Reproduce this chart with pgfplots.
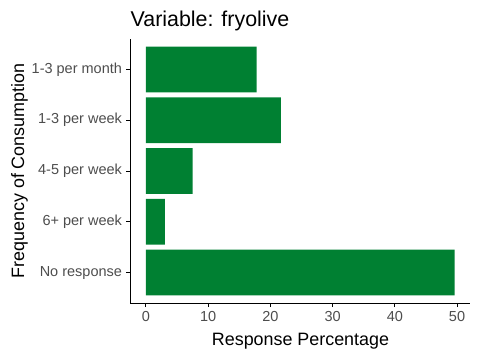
\documentclass[border=0pt]{standalone}
\usepackage{pgfplots}
\pgfplotsset{compat=1.18}
\usepackage{fontspec}
\setmainfont{Liberation Sans}
\definecolor{barg}{RGB}{0,128,50}
\definecolor{tickg}{RGB}{77,77,77}
\begin{document}
\begin{tikzpicture}[x=1pt,y=1pt]
\useasboundingbox (0,0) rectangle (480,360);
\begin{axis}[
  at={(130.5pt,57pt)}, anchor=south west,
  scale only axis, width=339.5pt, height=264pt,
  xbar, bar width=0.9,
  xmin=-2.48, xmax=52.08,
  ymin=0.4, ymax=5.6, y dir=reverse,
  axis x line*=bottom, axis y line*=left,
  axis line style={black, line width=0.9pt, -},
  ytick={1,2,3,4,5},
  yticklabels={1-3 per month,1-3 per week,4-5 per week,6+ per week,No response},
  xtick={0,10,20,30,40,50},
  tick align=outside, major tick length=4pt,
  tick style={black, line width=0.9pt},
  /pgf/number format/assume math mode=true,
  ticklabel style={font=\fontsize{14.5}{16}\selectfont, text=tickg},
  xticklabel style={yshift=-1pt},
  yticklabel style={xshift=-1pt},
  clip=false,
]
\addplot[fill=barg, draw=none] coordinates {
(17.8,1) (21.7,2) (7.5,3) (3.05,4) (49.6,5)
};
\end{axis}
\node[anchor=base west, inner sep=0pt, font=\fontsize{21.4}{24}\selectfont] at (130.5,333.3) {Variable: fryolive};
\node[anchor=base, font=\fontsize{17.9}{20}\selectfont] at (300.5,14.3) {Response Percentage};
\node[anchor=base, rotate=90, font=\fontsize{17.9}{20}\selectfont] at (24,189) {Frequency of Consumption};
\end{tikzpicture}
\end{document}
